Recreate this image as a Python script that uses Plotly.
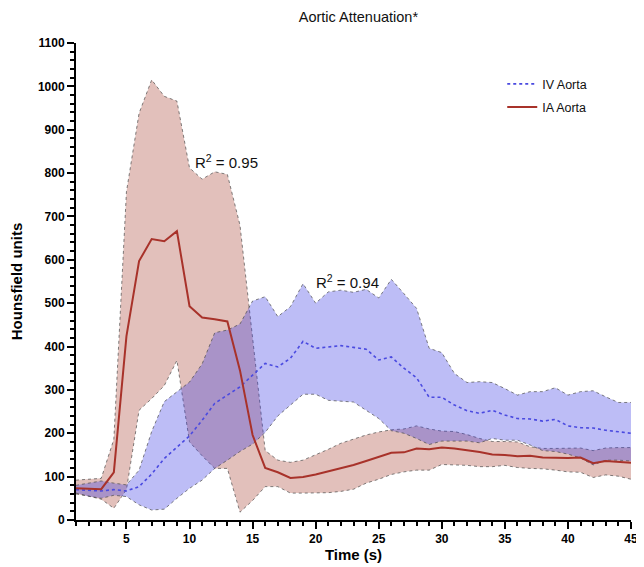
import plotly.graph_objects as go

# ---- data (time in seconds, values in Hounsfield units) ----
time_s = list(range(1, 46))

ia_mean = [73, 72, 71, 110, 424, 597, 648, 643, 666, 493, 467, 463, 458, 345, 196,
           120, 110, 97, 99, 105, 112, 120, 127, 136, 146, 155, 156, 165, 163, 167,
           165, 161, 157, 151, 150, 147, 148, 144, 143, 143, 144, 131, 136, 134, 132]
ia_upper = [92, 94, 96, 186, 757, 938, 1015, 977, 966, 812, 786, 803, 797, 680, 420,
            160, 138, 133, 138, 150, 163, 177, 186, 196, 203, 208, 210, 217, 210, 205,
            204, 197, 188, 181, 181, 180, 169, 165, 165, 165, 166, 160, 166, 167, 167]
ia_lower = [60, 55, 48, 27, 70, 253, 280, 310, 368, 180, 148, 119, 119, 18, 45,
            77, 77, 62, 62, 62, 63, 66, 71, 85, 94, 105, 111, 115, 115, 128,
            127, 126, 123, 123, 126, 121, 119, 118, 115, 111, 110, 98, 104, 101, 94]

iv_mean = [70, 68, 67, 70, 67, 77, 106, 142, 168, 194, 230, 269, 288, 307, 334,
           361, 353, 373, 412, 396, 399, 402, 398, 394, 369, 376, 350, 328, 283, 283,
           265, 252, 246, 253, 242, 234, 233, 228, 232, 217, 213, 212, 207, 203, 200]
iv_upper = [80, 85, 90, 85, 81, 115, 204, 273, 295, 318, 360, 432, 438, 452, 505,
            515, 469, 492, 545, 500, 526, 530, 525, 532, 512, 555, 522, 488, 396, 386,
            338, 317, 319, 317, 303, 288, 296, 296, 305, 288, 296, 298, 284, 271, 271]
iv_lower = [62, 55, 50, 57, 54, 35, 23, 25, 50, 73, 92, 119, 138, 158, 175,
            202, 240, 265, 290, 290, 276, 274, 272, 253, 234, 206, 200, 188, 174, 182,
            182, 182, 178, 188, 184, 184, 173, 160, 158, 152, 143, 127, 138, 138, 136]

r2_labels = ["R<sup>2</sup> = 0.95", "R<sup>2</sup> = 0.94"]
r2_x = [10.25, 19.9]
r2_y = [826, 550]

FONT = "Liberation Sans, Arial, Helvetica, sans-serif"
edge = dict(color="rgba(70,70,70,0.85)", width=0.8, dash="dot")

fig = go.Figure()

# IA band
fig.add_trace(go.Scatter(x=time_s, y=ia_lower, mode="lines", line=edge,
                         showlegend=False, hoverinfo="skip"))
fig.add_trace(go.Scatter(x=time_s, y=ia_upper, mode="lines", line=edge,
                         fill="tonexty", fillcolor="rgba(180,90,76,0.38)",
                         showlegend=False, hoverinfo="skip"))
# IV band
fig.add_trace(go.Scatter(x=time_s, y=iv_lower, mode="lines", line=edge,
                         showlegend=False, hoverinfo="skip"))
fig.add_trace(go.Scatter(x=time_s, y=iv_upper, mode="lines", line=edge,
                         fill="tonexty", fillcolor="rgba(54,54,227,0.33)",
                         showlegend=False, hoverinfo="skip"))
# means
fig.add_trace(go.Scatter(x=time_s, y=iv_mean, mode="lines", name="IV Aorta",
                         legendgroup="iv",
                         line=dict(color="#4a4ae0", width=1.6, dash="dot")))
fig.add_trace(go.Scatter(x=time_s, y=ia_mean, mode="lines", name="IA Aorta",
                         legendgroup="ia",
                         line=dict(color="#a8322a", width=2)))

for txt, xx, yy in zip(r2_labels, r2_x, r2_y):
    fig.add_annotation(x=xx, y=yy, text=txt, showarrow=False, xanchor="left",
                       yanchor="middle", font=dict(family=FONT, size=15, color="#111"))

axis_common = dict(showline=True, linecolor="black", linewidth=2, ticks="outside",
                   tickcolor="black", tickwidth=1.5, ticklen=7, showgrid=False,
                   zeroline=False, mirror=False,
                   tickfont=dict(family=FONT, size=12, color="black", weight="bold"))

fig.update_layout(
    width=636, height=559,
    margin=dict(l=68, r=6.5, t=35, b=45.3),
    paper_bgcolor="white", plot_bgcolor="white",
    title=dict(text="Aortic Attenuation*", x=0.551, xanchor="center", y=0.984,
               yanchor="middle", font=dict(family=FONT, size=14.5, color="#111")),
    xaxis=dict(range=[1, 45], tick0=0, dtick=5,
               minor=dict(dtick=1, ticks="outside", ticklen=4, tickwidth=1.5,
                          tickcolor="black"),
               title=dict(text="Time (s)", standoff=4,
                          font=dict(family=FONT, size=15, color="black", weight="bold")),
               **axis_common),
    yaxis=dict(range=[0, 1100], tick0=0, dtick=100,
               minor=dict(dtick=20, ticks="outside", ticklen=4, tickwidth=1.5,
                          tickcolor="black"),
               title=dict(text="Hounsfield units", standoff=12,
                          font=dict(family=FONT, size=15, color="black", weight="bold")),
               **axis_common),
    legend=dict(x=0.768, y=0.945, xanchor="left", yanchor="top",
                traceorder="grouped", tracegroupgap=4,
                bgcolor="rgba(0,0,0,0)",
                font=dict(family=FONT, size=12.5, color="#111")),
)

fig.write_html("out.html")
